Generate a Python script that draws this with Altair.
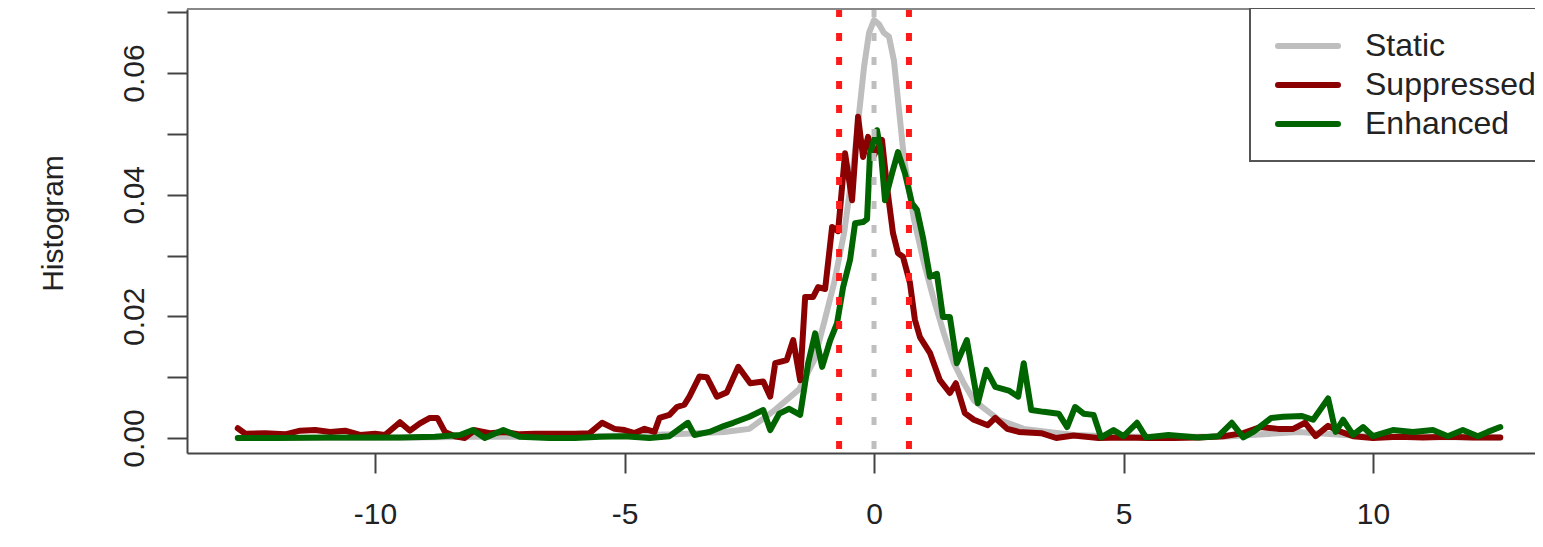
import altair as alt
import pandas as pd

# ---------------- data ----------------
series_names = ["Static", "Suppressed", "Enhanced"]
series_colors = ["#bebebe", "#8b0000", "#006400"]

static_x = [-12.75, -10.0, -8.0, -6.0, -5.0, -4.0, -3.0, -2.5, -2.0, -1.5, -1.2, -1.0, -0.8, -0.6,
            -0.4, -0.2, -0.1, 0.0, 0.1, 0.2, 0.3, 0.4, 0.5, 0.6, 0.8, 1.0, 1.2, 1.4, 1.6, 1.8,
            2.0, 2.5, 3.0, 4.0, 5.0, 7.0, 8.5, 10.0, 12.55]
static_y = [0.0000, 0.0000, 0.0002, 0.0002, 0.0004, 0.0006, 0.0010, 0.0015, 0.0045, 0.0080, 0.0128,
            0.0190, 0.0255, 0.0337, 0.0457, 0.0610, 0.0666, 0.0687, 0.0680, 0.0666, 0.0660, 0.0620,
            0.0540, 0.0460, 0.0360, 0.0288, 0.0227, 0.0172, 0.0123, 0.0090, 0.0062, 0.0030, 0.0015,
            0.0005, 0.0002, 0.0002, 0.0010, 0.0002, 0.0001]

supp_x = [-12.75, -12.6, -12.2, -11.8, -11.5, -11.2, -10.9, -10.6, -10.3, -10.0, -9.8, -9.5, -9.3,
          -9.1, -8.9, -8.75, -8.6, -8.4, -8.2, -8.0, -7.7, -7.4, -7.1, -6.8, -6.4, -6.0, -5.7,
          -5.45, -5.2, -5.0, -4.8, -4.6, -4.4, -4.3, -4.1, -3.95, -3.8, -3.7, -3.5, -3.35, -3.15,
          -2.95, -2.72, -2.48, -2.22, -2.08, -1.98, -1.75, -1.62, -1.48, -1.38, -1.22, -1.12,
          -0.98, -0.84, -0.72, -0.58, -0.44, -0.32, -0.22, -0.12, -0.02, 0.16, 0.26, 0.32, 0.38,
          0.48, 0.58, 0.72, 0.82, 0.92, 1.12, 1.32, 1.52, 1.64, 1.82, 2.0, 2.28, 2.43, 2.67, 2.9,
          3.35, 3.65, 4.0, 4.5, 5.0, 5.5, 6.0, 6.5, 7.0, 7.4, 7.74, 8.1, 8.4, 8.64, 8.85, 9.1,
          9.3, 9.6, 10.0, 10.5, 11.0, 11.5, 12.0, 12.55]
supp_y = [0.0016, 0.0007, 0.0008, 0.0006, 0.0012, 0.0013, 0.0010, 0.0012, 0.0005, 0.0007, 0.0005,
          0.0026, 0.0012, 0.0024, 0.0033, 0.0033, 0.0010, 0.0003, 0.0000, 0.0013, 0.0008, 0.0010,
          0.0006, 0.0007, 0.0007, 0.0007, 0.0008, 0.0025, 0.0015, 0.0013, 0.0008, 0.0015, 0.0010,
          0.0033, 0.0038, 0.0051, 0.0055, 0.0068, 0.0101, 0.0100, 0.0068, 0.0075, 0.0117, 0.0090,
          0.0093, 0.0068, 0.0123, 0.0128, 0.0161, 0.0095, 0.0232, 0.0232, 0.0248, 0.0245, 0.0347,
          0.0340, 0.0468, 0.0391, 0.0528, 0.0462, 0.0495, 0.0462, 0.0490, 0.0413, 0.0375, 0.0337,
          0.0304, 0.0298, 0.0255, 0.0194, 0.0166, 0.0140, 0.0095, 0.0074, 0.0090, 0.0041, 0.0030,
          0.0021, 0.0033, 0.0015, 0.0010, 0.0008, 0.0000, 0.0004, 0.0000, 0.0001, 0.0000, 0.0000,
          0.0001, 0.0003, 0.0008, 0.0018, 0.0015, 0.0015, 0.0025, 0.0003, 0.0020, 0.0012, 0.0003,
          0.0000, 0.0002, 0.0001, 0.0002, 0.0001, 0.0001]

enh_x = [-12.75, -12.0, -11.0, -10.0, -9.5, -8.8, -8.3, -8.04, -7.8, -7.43, -7.1, -6.5, -6.0, -5.5,
         -5.0, -4.5, -4.1, -3.73, -3.6, -3.3, -3.0, -2.82, -2.5, -2.22, -2.08, -1.9, -1.7, -1.48,
         -1.32, -1.18, -1.04, -0.88, -0.74, -0.62, -0.48, -0.38, -0.22, -0.14, -0.08, 0.06, 0.14,
         0.22, 0.36, 0.48, 0.62, 0.76, 0.86, 0.98, 1.12, 1.26, 1.38, 1.52, 1.66, 1.86, 2.08, 2.25,
         2.43, 2.7, 2.89, 3.0, 3.15, 3.4, 3.7, 3.87, 4.03, 4.2, 4.4, 4.55, 4.8, 5.0, 5.27, 5.45,
         5.9, 6.5, 6.9, 7.17, 7.4, 7.6, 7.96, 8.2, 8.58, 8.8, 9.1, 9.25, 9.4, 9.6, 9.8, 10.0,
         10.4, 10.8, 11.2, 11.5, 11.8, 12.1, 12.3, 12.55]
enh_y = [0.0000, 0.0000, 0.0001, 0.0001, 0.0001, 0.0002, 0.0005, 0.0013, 0.0000, 0.0013, 0.0002,
         0.0000, 0.0000, 0.0002, 0.0003, 0.0000, 0.0003, 0.0025, 0.0005, 0.0010, 0.0020, 0.0025,
         0.0035, 0.0046, 0.0013, 0.0040, 0.0048, 0.0038, 0.0123, 0.0172, 0.0117, 0.0160, 0.0189,
         0.0248, 0.0293, 0.0353, 0.0355, 0.0360, 0.0468, 0.0506, 0.0468, 0.0391, 0.0435, 0.0470,
         0.0435, 0.0386, 0.0375, 0.0330, 0.0265, 0.0270, 0.0199, 0.0199, 0.0123, 0.0161, 0.0057,
         0.0112, 0.0084, 0.0078, 0.0068, 0.0123, 0.0046, 0.0043, 0.0040, 0.0018, 0.0051, 0.0040,
         0.0038, 0.0001, 0.0013, 0.0003, 0.0025, 0.0001, 0.0005, 0.0001, 0.0003, 0.0025, 0.0001,
         0.0010, 0.0033, 0.0035, 0.0036, 0.0030, 0.0065, 0.0010, 0.0030, 0.0005, 0.0018, 0.0003,
         0.0013, 0.0010, 0.0013, 0.0003, 0.0013, 0.0003, 0.0010, 0.0018]

cutoffs = [-0.7, 0.7]
center_line = [0.0]

x_ticks = [-10, -5, 0, 5, 10]
y_ticks = [0.0, 0.01, 0.02, 0.03, 0.04, 0.05, 0.06, 0.07]
y_title = "Histogram"

# ---------------- layout ----------------
W, H = 1348, 444
FONT = "Liberation Sans"
FS = 30
LEG_FS = 32
LW = 6

xs = alt.Scale(domain=[-13.768, 13.246], nice=False, zero=False)
ys = alt.Scale(domain=[-0.002466, 0.07053], nice=False, zero=False)

xaxis = alt.Axis(values=x_ticks, title=None, grid=False, tickSize=20, tickWidth=2,
                 tickColor="#444", domainColor="#444", domainWidth=2,
                 labelFont=FONT, labelFontSize=FS, labelColor="#222", labelPadding=26,
                 labelFlush=False, labelOverlap=False,
                 labelExpr="'' + datum.value")
yaxis = alt.Axis(values=y_ticks, title=y_title, grid=False, tickSize=20, tickWidth=2,
                 tickColor="#444", domainColor="#444", domainWidth=2,
                 labelFont=FONT, labelFontSize=FS, labelColor="#222", labelPadding=24,
                 labelAngle=-90, labelAlign="center", labelBaseline="alphabetic",
                 labelOverlap=False, labelFlush=False,
                 labelExpr="round(datum.value*100) % 2 == 0 ? format(datum.value, '.2f') : ''",
                 titleFont=FONT, titleFontSize=FS, titleFontWeight="normal", titleColor="#222",
                 titleAngle=-90, titleX=-125, titleY=214, titleAlign="center",
                 titleBaseline="alphabetic")


def series_line(xv, yv, color):
    df = pd.DataFrame({"x": xv, "y": yv})
    return alt.Chart(df).mark_line(color=color, strokeWidth=LW, strokeJoin="round",
                                   strokeCap="round").encode(
        x=alt.X("x:Q", scale=xs, axis=xaxis),
        y=alt.Y("y:Q", scale=ys, axis=yaxis),
        order="x:Q",
    )


lines = [
    series_line(static_x, static_y, series_colors[0]),
    series_line(supp_x, supp_y, series_colors[1]),
    series_line(enh_x, enh_y, series_colors[2]),
]

center_rule = alt.Chart(pd.DataFrame({"x": center_line})).mark_rule(
    color="#bebebe", strokeWidth=5, strokeDash=[8, 16]).encode(
    x=alt.X("x:Q", scale=xs, axis=xaxis))
cut_rules = alt.Chart(pd.DataFrame({"x": cutoffs})).mark_rule(
    color="#ff1a1a", strokeWidth=6, strokeDash=[8, 16]).encode(
    x=alt.X("x:Q", scale=xs, axis=xaxis))

one = pd.DataFrame({"a": [0]})
top_border = alt.Chart(one).mark_rule(color="#888", strokeWidth=2).encode(
    x=alt.value(0), x2=alt.value(W), y=alt.value(0))

legend_box = alt.Chart(one).mark_rect(fill="white", stroke="#555", strokeWidth=2).encode(
    x=alt.value(1063), x2=alt.value(1600), y=alt.value(-1), y2=alt.value(152))

legend_rows = [37, 76, 115]
legend_layers = []
for name, color, ry in zip(series_names, series_colors, legend_rows):
    legend_layers.append(
        alt.Chart(one).mark_rule(color=color, strokeWidth=LW, strokeCap="round").encode(
            x=alt.value(1091), x2=alt.value(1151), y=alt.value(ry)))
    legend_layers.append(
        alt.Chart(pd.DataFrame({"label": [name]})).mark_text(
            align="left", baseline="middle", font=FONT, fontSize=LEG_FS, color="#222").encode(
            x=alt.value(1178), y=alt.value(ry), text="label:N"))

chart = alt.layer(
    *lines, center_rule, cut_rules, top_border, legend_box, *legend_layers
).properties(
    width=W, height=H,
    padding={"left": 179, "top": 1, "right": 0, "bottom": 80},
    autosize=alt.AutoSizeParams(type="none"),
).configure_view(stroke=None)

chart.save("out.html", embed_options={"renderer": "svg", "actions": False})
